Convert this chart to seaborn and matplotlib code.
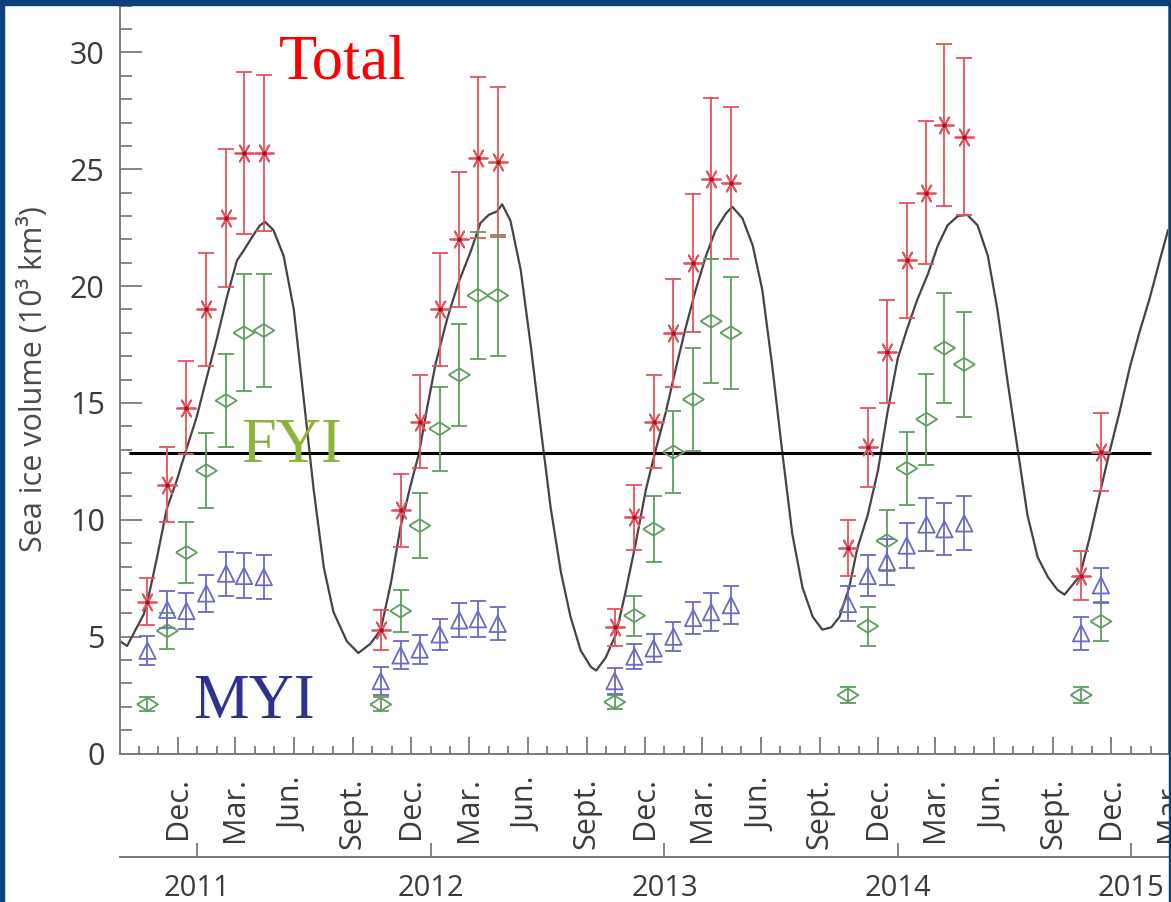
import numpy as np
import pandas as pd
import matplotlib
matplotlib.use("Agg")
import matplotlib.pyplot as plt
import matplotlib.dates as mdates
from matplotlib.ticker import MultipleLocator, FuncFormatter, NullLocator, FixedLocator
from matplotlib.patches import Rectangle
import seaborn as sns

# ---------------- data ----------------
obs_dates = [
    "2010-10-15", "2010-11-15", "2010-12-15", "2011-01-15", "2011-02-15", "2011-03-15", "2011-04-15",
    "2011-10-15", "2011-11-15", "2011-12-15", "2012-01-15", "2012-02-15", "2012-03-15", "2012-04-15",
    "2012-10-15", "2012-11-15", "2012-12-15", "2013-01-15", "2013-02-15", "2013-03-15", "2013-04-15",
    "2013-10-15", "2013-11-15", "2013-12-15", "2014-01-15", "2014-02-15", "2014-03-15", "2014-04-15",
    "2014-10-15", "2014-11-15",
]
total_vals = [6.5, 11.5, 14.8, 19.0, 22.9, 25.7, 25.7,
              5.3, 10.4, 14.2, 19.0, 22.0, 25.5, 25.3,
              5.4, 10.1, 14.2, 18.0, 21.0, 24.6, 24.4,
              8.8, 13.1, 17.2, 21.1, 24.0, 26.9, 26.4,
              7.6, 12.9]
total_err = [1.0, 1.6, 2.0, 2.4, 2.95, 3.45, 3.35,
             0.85, 1.55, 2.0, 2.4, 2.9, 3.45, 3.2,
             0.8, 1.4, 2.0, 2.3, 2.95, 3.45, 3.25,
             1.2, 1.7, 2.2, 2.45, 3.05, 3.45, 3.35,
             1.05, 1.65]
fyi_vals = [2.1, 5.25, 8.6, 12.1, 15.1, 18.0, 18.1,
            2.1, 6.1, 9.75, 13.9, 16.2, 19.6, 19.6,
            2.2, 5.9, 9.6, 12.9, 15.15, 18.5, 18.0,
            2.5, 5.45, 9.1, 12.2, 14.3, 17.35, 16.65,
            2.5, 5.65]
fyi_err = [0.3, 0.78, 1.3, 1.6, 2.0, 2.5, 2.4,
           0.3, 0.9, 1.4, 1.8, 2.2, 2.7, 2.6,
           0.3, 0.86, 1.4, 1.75, 2.2, 2.65, 2.4,
           0.35, 0.84, 1.3, 1.55, 1.95, 2.35, 2.25,
           0.35, 0.85]
myi_vals = [4.4, 6.15, 6.1, 6.85, 7.7, 7.6, 7.55,
            3.1, 4.2, 4.45, 5.1, 5.7, 5.75, 5.55,
            3.1, 4.15, 4.5, 5.0, 5.8, 6.05, 6.35,
            6.4, 7.6, 8.2, 8.9, 9.8, 9.6, 9.85,
            5.15, 7.2]
myi_err = [0.63, 0.8, 0.78, 0.78, 0.94, 0.96, 0.94,
           0.6, 0.6, 0.6, 0.65, 0.72, 0.78, 0.7,
           0.56, 0.55, 0.6, 0.63, 0.7, 0.8, 0.82,
           0.75, 0.88, 1.0, 0.96, 1.12, 1.1, 1.15,
           0.7, 0.75]

curve_dates = [
    "2010-08-31", "2010-09-13", "2010-10-09", "2010-10-15", "2010-10-30", "2010-11-14", "2010-11-30",
    "2010-12-13", "2010-12-31", "2011-01-13", "2011-02-01", "2011-02-16", "2011-03-04", "2011-03-14",
    "2011-03-30", "2011-04-09", "2011-04-17", "2011-04-30", "2011-05-16", "2011-06-01", "2011-06-16",
    "2011-07-02", "2011-07-18", "2011-08-02", "2011-08-23", "2011-09-10", "2011-09-29", "2011-10-15",
    "2011-10-31", "2011-11-15", "2011-12-01", "2011-12-14", "2011-12-27", "2012-01-09", "2012-01-27",
    "2012-02-13", "2012-03-04", "2012-03-19", "2012-04-01", "2012-04-14", "2012-04-22", "2012-05-05",
    "2012-05-21", "2012-06-06", "2012-06-21", "2012-07-07", "2012-07-23", "2012-08-07", "2012-08-23",
    "2012-09-08", "2012-09-16", "2012-10-01", "2012-10-17", "2012-11-01", "2012-11-17", "2012-12-03",
    "2012-12-18", "2013-01-03", "2013-01-19", "2013-02-03", "2013-02-19", "2013-03-07", "2013-03-22",
    "2013-04-07", "2013-04-17", "2013-05-03", "2013-05-19", "2013-06-03", "2013-06-19", "2013-07-05",
    "2013-07-20", "2013-08-05", "2013-08-21", "2013-09-05", "2013-09-19", "2013-10-02", "2013-10-17",
    "2013-10-30", "2013-11-15", "2013-12-01", "2013-12-16", "2014-01-01", "2014-01-16", "2014-02-01",
    "2014-02-17", "2014-03-05", "2014-03-20", "2014-04-05", "2014-04-20", "2014-05-06", "2014-05-22",
    "2014-06-06", "2014-06-22", "2014-07-08", "2014-07-23", "2014-08-08", "2014-08-24", "2014-09-08",
    "2014-09-19", "2014-10-13", "2014-10-28", "2014-11-13", "2014-11-28", "2014-12-14", "2014-12-30",
    "2015-01-14", "2015-01-30", "2015-02-15", "2015-02-28",
]
curve_vals = [
    4.85, 4.6, 5.95, 6.5, 8.4, 10.45, 11.7,
    12.86, 14.4, 15.8, 17.8, 19.5, 21.1, 21.5,
    22.2, 22.6, 22.75, 22.4, 21.3, 19.0, 15.3,
    11.3, 7.95, 6.06, 4.8, 4.3, 4.7, 5.3,
    7.3, 9.7, 11.5, 12.86, 14.85, 16.7, 18.6,
    20.1, 21.5, 22.7, 23.05, 23.2, 23.5, 22.8,
    20.7, 17.4, 14.0, 10.5, 7.75, 5.85, 4.4,
    3.7, 3.55, 4.1, 5.1, 6.9, 9.0, 11.3,
    12.96, 14.6, 16.5, 18.2, 19.85, 21.3, 22.4,
    23.1, 23.4, 22.9, 21.75, 19.85, 16.5, 12.75,
    9.4, 7.1, 5.85, 5.3, 5.4, 5.85, 7.1,
    8.8, 10.2, 12.1, 14.6, 16.9, 18.2, 19.45,
    20.5, 21.75, 22.6, 23.0, 23.05, 22.6, 21.3,
    19.0, 15.9, 12.96, 10.2, 8.4, 7.55, 7.0,
    6.8, 7.6, 9.2, 11.1, 12.86, 14.6, 16.5,
    18.0, 19.45, 21.1, 22.4,
]

ref_level = 12.86
ref_start, ref_end = "2010-09-16", "2015-02-02"

month_names = {3: "Mar.", 6: "Jun.", 9: "Sept.", 12: "Dec."}
year_ticks = ["2011-01-01", "2012-01-01", "2013-01-01", "2014-01-01", "2015-01-01"]
y_label = "Sea ice volume (10³ km³)"
series_labels = ["Total", "FYI", "MYI"]

# ---------------- styling ----------------
sns.set_style("ticks")
plt.rcParams["font.family"] = ["Open Sans", "DejaVu Sans"]

c_total = "#e5525c"
c_fyi = "#5e9e5e"
c_myi = "#6a6ac6"
c_spine = "#7a7a7a"
c_text = "#3a3a3a"
c_border = "#0b4178"

W, H = 1171, 902
fig = plt.figure(figsize=(W / 100, H / 100), dpi=100)
fig.patch.set_facecolor("white")
ax = fig.add_axes([120 / W, (H - 753.5) / H, (1169 - 120) / W, (753.5 - 5) / H])

obs = pd.DataFrame({
    "date": pd.to_datetime(obs_dates),
    "total": total_vals, "total_err": total_err,
    "fyi": fyi_vals, "fyi_err": fyi_err,
    "myi": myi_vals, "myi_err": myi_err,
})
curve = pd.DataFrame({"date": pd.to_datetime(curve_dates), "vol": curve_vals})

# model curve
sns.lineplot(data=curve, x="date", y="vol", color="#444444", lw=1.6, ax=ax, zorder=2)

# horizontal reference line
ax.hlines(ref_level, pd.Timestamp(ref_start), pd.Timestamp(ref_end), color="black", lw=2.2, zorder=3)

# error bars
for col, c in [("total", c_total), ("fyi", c_fyi), ("myi", c_myi)]:
    ax.errorbar(obs["date"], obs[col], yerr=obs[col + "_err"], fmt="none",
                ecolor=c, elinewidth=1.3, capsize=5.5, capthick=1.3, zorder=4)

# markers
diamond = [(-1, 0), (0, 0.62), (1, 0), (0, -0.62), (-1, 0)]
sns.scatterplot(data=obs, x="date", y="total", marker=(6, 2, 90), s=180,
                color=c_total, edgecolor=c_total, linewidth=1.3, ax=ax, zorder=5)
sns.scatterplot(data=obs, x="date", y="total", marker="o", s=10,
                color="#b0101a", edgecolor="#b0101a", linewidth=0, ax=ax, zorder=6)
sns.scatterplot(data=obs, x="date", y="fyi", marker=diamond, s=230,
                color=c_fyi, facecolor="none", edgecolor=c_fyi, linewidth=1.3, ax=ax, zorder=5)
sns.scatterplot(data=obs, x="date", y="myi", marker="^", s=140,
                color=c_myi, facecolor="none", edgecolor=c_myi, linewidth=1.3, ax=ax, zorder=5)

# axes limits / ticks
ax.set_xlim(pd.Timestamp("2010-09-02"), pd.Timestamp("2015-03-01 12:00"))
ax.set_ylim(0, 32.03)
ax.yaxis.set_major_locator(MultipleLocator(5))
ax.yaxis.set_minor_locator(MultipleLocator(1))
ax.xaxis.set_major_locator(mdates.MonthLocator(bymonth=[3, 6, 9, 12]))
ax.xaxis.set_minor_locator(mdates.MonthLocator())
ax.xaxis.set_major_formatter(FuncFormatter(lambda v, pos: month_names.get(mdates.num2date(v).month, "")))

ax.tick_params(axis="y", which="major", direction="in", length=16, width=1.3, color=c_spine,
               labelsize=22, labelcolor=c_text, pad=11)
ax.tick_params(axis="y", which="minor", direction="in", length=8.5, width=1.3, color=c_spine)
ax.tick_params(axis="x", which="major", direction="in", length=12, width=1.3, color=c_spine,
               labelsize=22, labelcolor=c_text, labelrotation=90, pad=17)
ax.tick_params(axis="x", which="minor", direction="in", length=6, width=1.3, color=c_spine)
for s in ax.spines.values():
    s.set_color(c_spine)
    s.set_linewidth(1.4)

ax.set_xlabel("")
ax.set_ylabel(y_label, fontsize=22, color="#4a4a4a", labelpad=15)

# year axis below
sec = ax.secondary_xaxis(-0.1383)
sec.xaxis.set_major_locator(FixedLocator(mdates.date2num(pd.to_datetime(year_ticks))))
sec.xaxis.set_minor_locator(NullLocator())
sec.xaxis.set_major_formatter(mdates.DateFormatter("%Y"))
sec.tick_params(axis="x", which="major", direction="in", length=10, width=1.3, color=c_spine,
                labelsize=21, labelcolor=c_text, pad=12)
sec.spines["bottom"].set_color(c_spine)
sec.spines["bottom"].set_linewidth(1.4)

# series annotations
ax.text(pd.Timestamp("2011-05-08"), 28.9, series_labels[0], color="#ff0000", fontsize=45,
        family="Liberation Serif", ha="left", va="baseline", zorder=7)
ax.text(pd.Timestamp("2011-03-11"), 12.47, series_labels[1], color="#8cb33a", fontsize=45,
        family="Liberation Serif", ha="left", va="baseline", zorder=7)
ax.text(pd.Timestamp("2010-12-26"), 1.52, series_labels[2], color="#2e3192", fontsize=45,
        family="Liberation Serif", ha="left", va="baseline", zorder=7)

# dark blue frame of the slide
fig.patches.append(Rectangle((0, 1 - 5 / H), 1, 5 / H, transform=fig.transFigure,
                             color=c_border, zorder=10))
fig.patches.append(Rectangle((0, 0), 4 / W, 1, transform=fig.transFigure,
                             color=c_border, zorder=10))
fig.patches.append(Rectangle((1 - 2 / W, 0), 2 / W, 1, transform=fig.transFigure,
                             color=c_border, zorder=10))

fig.savefig("out.png", dpi=100)
